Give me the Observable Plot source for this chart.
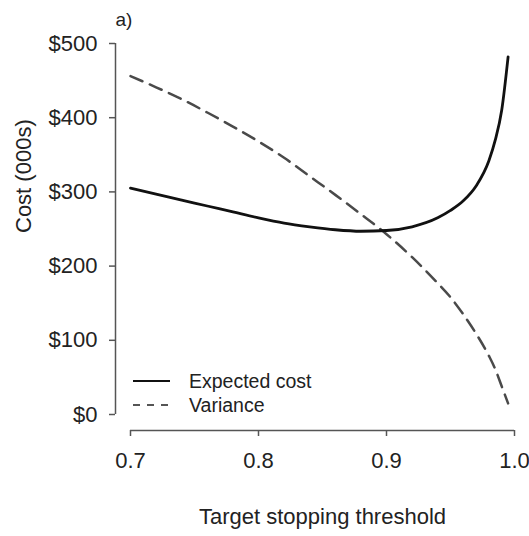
<!DOCTYPE html>
<html>
<head>
<meta charset="utf-8">
<script src="https://cdn.jsdelivr.net/npm/d3@7"></script>
<script src="https://cdn.jsdelivr.net/npm/@observablehq/plot@0.6"></script>
<style>
  html, body { margin: 0; padding: 0; background: #fff; }
  #chart svg { display: block; }
</style>
</head>
<body>
<div id="chart"></div>
<script>
// Target stopping threshold (x) and the two cost curves, in $000s
const threshold    = [0.70, 0.72, 0.74, 0.76, 0.78, 0.80, 0.82, 0.84, 0.86, 0.88, 0.90, 0.92, 0.94, 0.95, 0.96, 0.97, 0.98, 0.985, 0.99, 0.995];
const expectedCost = [305,  297,  289,  281,  273,  265,  258,  253,  249,  247,  248,  253,  265,  275,  288,  308,  342,  370,   410,  482];
const variance     = [456,  441,  425,  407,  388,  368,  346,  321,  296,  270,  243,  212,  177,  158,  135,  109,  79,   61,    38,   15];

const seriesNames = ["Expected cost", "Variance"];
const xTicks = [0.7, 0.8, 0.9, 1.0];
const yTicks = [0, 100, 200, 300, 400, 500];
const xDomain = [0.7, 1.0];
const yDomain = [0, 500];
const xLabel = "Target stopping threshold";
const yLabel = "Cost (000s)";
const panelLabel = "a)";

const costRows = threshold.map((t, i) => ({t, v: expectedCost[i]}));
const varRows  = threshold.map((t, i) => ({t, v: variance[i]}));

const font = "Arial, 'Liberation Sans', Helvetica, sans-serif";
const axisGrey = "#555";
const textColor = "#222";

const chart = Plot.plot({
  width: 529,
  height: 536,
  marginLeft: 130,
  marginRight: 15,
  marginTop: 43,
  marginBottom: 122,
  style: {fontFamily: font, fontSize: "22px", color: textColor, background: "#fff"},
  x: {domain: xDomain},
  y: {domain: yDomain},
  marks: [
    // detached R-style axes
    Plot.ruleX([xDomain[0]], {y1: yDomain[0], y2: yDomain[1], dx: -15, stroke: axisGrey, strokeWidth: 1.5}),
    Plot.ruleY([yDomain[0]], {x1: xDomain[0], x2: xDomain[1], dy: 16, stroke: axisGrey, strokeWidth: 1.5}),
    Plot.axisY({ticks: yTicks, tickFormat: d => "$" + d, tickSize: 6, tickPadding: 12, dx: -15,
                stroke: axisGrey, strokeWidth: 1.5, label: null, fontSize: 22}),
    Plot.axisX({ticks: xTicks, tickFormat: d => d.toFixed(1), tickSize: 6, tickPadding: 16, dy: 16,
                stroke: axisGrey, strokeWidth: 1.5, label: null, fontSize: 22}),
    // titles
    Plot.text([xLabel], {frameAnchor: "bottom", dy: 109, fontSize: 22, fill: textColor}),
    Plot.text([yLabel], {frameAnchor: "left", rotate: -90, dx: -107, dy: 4, fontSize: 22, fill: textColor}),
    Plot.text([panelLabel], {frameAnchor: "top-left", textAnchor: "start", lineAnchor: "middle",
                             dx: -15, dy: -24, fontSize: 19, fill: textColor}),
    // curves
    Plot.line(varRows, {x: "t", y: "v", stroke: "#4a4a4a", strokeWidth: 2.5, strokeDasharray: "13,8", curve: "monotone-x"}),
    Plot.line(costRows, {x: "t", y: "v", stroke: "#111", strokeWidth: 2.8, curve: "monotone-x"})
  ]
});

// legend in the lower-left corner of the panel
const svg = d3.select(chart);
const legend = svg.append("g")
  .attr("font-family", font)
  .attr("font-size", 19.5)
  .attr("fill", textColor)
  .attr("text-anchor", "start");
const legendStyles = [
  {stroke: "#111", dash: null, width: 2},
  {stroke: "#555", dash: "7,7", width: 2}
];
seriesNames.forEach((name, i) => {
  const y = 381 + i * 24;
  legend.append("line")
    .attr("x1", 133).attr("x2", 170).attr("y1", y).attr("y2", y)
    .attr("stroke", legendStyles[i].stroke)
    .attr("stroke-width", legendStyles[i].width)
    .attr("stroke-dasharray", legendStyles[i].dash);
  legend.append("text")
    .attr("x", 189).attr("y", y).attr("dy", "0.35em")
    .attr("text-anchor", "start")
    .text(name);
});

document.getElementById("chart").appendChild(chart);
</script>
</body>
</html>
